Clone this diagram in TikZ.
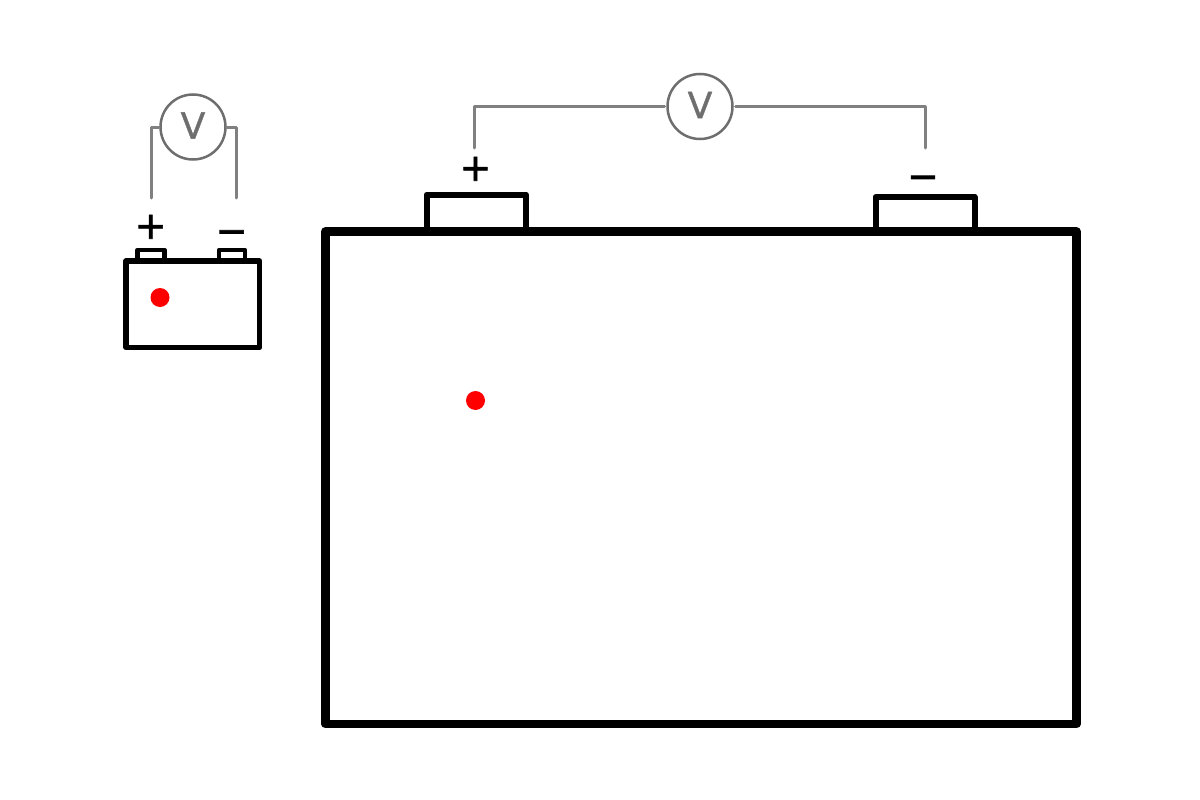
\documentclass[tikz,border=0pt]{standalone}
\usepackage{fontspec}
\setmainfont{DejaVu Sans}
\newfontfamily\polarfont[FakeBold=1.8]{DejaVu Sans}
\newfontfamily\meterfont[FakeBold=0.9]{DejaVu Sans}
\definecolor{wiregray}{HTML}{808080}
\definecolor{metergray}{HTML}{6E6E6E}
\definecolor{probered}{HTML}{FF0000}
\tikzset{
  wire/.style={draw=wiregray,line width=3pt,line cap=round,line join=round},
  meter/.style={circle,draw=metergray,line width=2.5pt,minimum size=65pt,inner sep=0pt},
  metertext/.style={inner sep=0pt,outer sep=0pt,text=metergray,font=\meterfont\fontsize{36}{36}\selectfont},
  polarity/.style={inner sep=0pt,outer sep=0pt,text=black,font=\polarfont\fontsize{38}{38}\selectfont},
  cellsmall/.style={rectangle,draw=black,line width=5.5pt,line join=round,inner sep=0pt,outer sep=0pt},
  celllarge/.style={rectangle,draw=black,line width=8.5pt,line join=round,inner sep=0pt,outer sep=0pt},
  lugsmall/.style={draw=black,line width=4.5pt,line join=round},
  luglarge/.style={draw=black,line width=6pt,line join=round},
  probe/.style={circle,fill=probered,draw=none,minimum size=19pt,inner sep=0pt,outer sep=0pt},
}
\begin{document}
\begin{tikzpicture}[x=1pt,y=-1pt]
\useasboundingbox (0,0) rectangle (1200,800);
% small battery
\draw[lugsmall] (137.5,261) -- (137.5,250) -- (164.5,250) -- (164.5,261);
\draw[lugsmall] (219,261) -- (219,250) -- (245,250) -- (245,261);
\node[cellsmall,minimum width=133.5pt,minimum height=86.5pt] (smallcell) at (192.75,304.25) {};
\node[probe] (smalldot) at (160,297.5) {};
\node[polarity] (smallplus) at (150.7,226.8) {+};
\node[polarity] (smallminus) at (231.7,237) {−};
\node[meter] (smallmeter) at (193,127) {};
\node[metertext] (smallV) at (193,125.5) {V};
\coordinate (smallL) at (151.5,198);
\coordinate (smallR) at (236.5,198);
\draw[wire] (smallL) |- (smallmeter.west);
\draw[wire] (smallR) |- (smallmeter.east);
% large battery
\draw[luglarge] (426.7,231) -- (426.7,194.5) -- (526,194.5) -- (526,231);
\node[celllarge,minimum width=751pt,minimum height=492.5pt] (largecell) at (701,477.75) {};
\draw[luglarge] (875.5,233.5) -- (875.5,197) -- (974.5,197) -- (974.5,233.5);
\node[probe] (largedot) at (475.5,400.5) {};
\node[polarity] (largeplus) at (475.5,168.8) {+};
\node[polarity] (largeminus) at (923,182.5) {−};
\node[meter,outer sep=3pt] (largemeter) at (700,106.5) {};
\node[metertext] (largeV) at (700,105) {V};
\coordinate (largeL) at (474.5,148);
\coordinate (largeR) at (925,148);
\draw[wire] (largeL) |- (largemeter.west);
\draw[wire] (largeR) |- (largemeter.east);
\end{tikzpicture}
\end{document}
